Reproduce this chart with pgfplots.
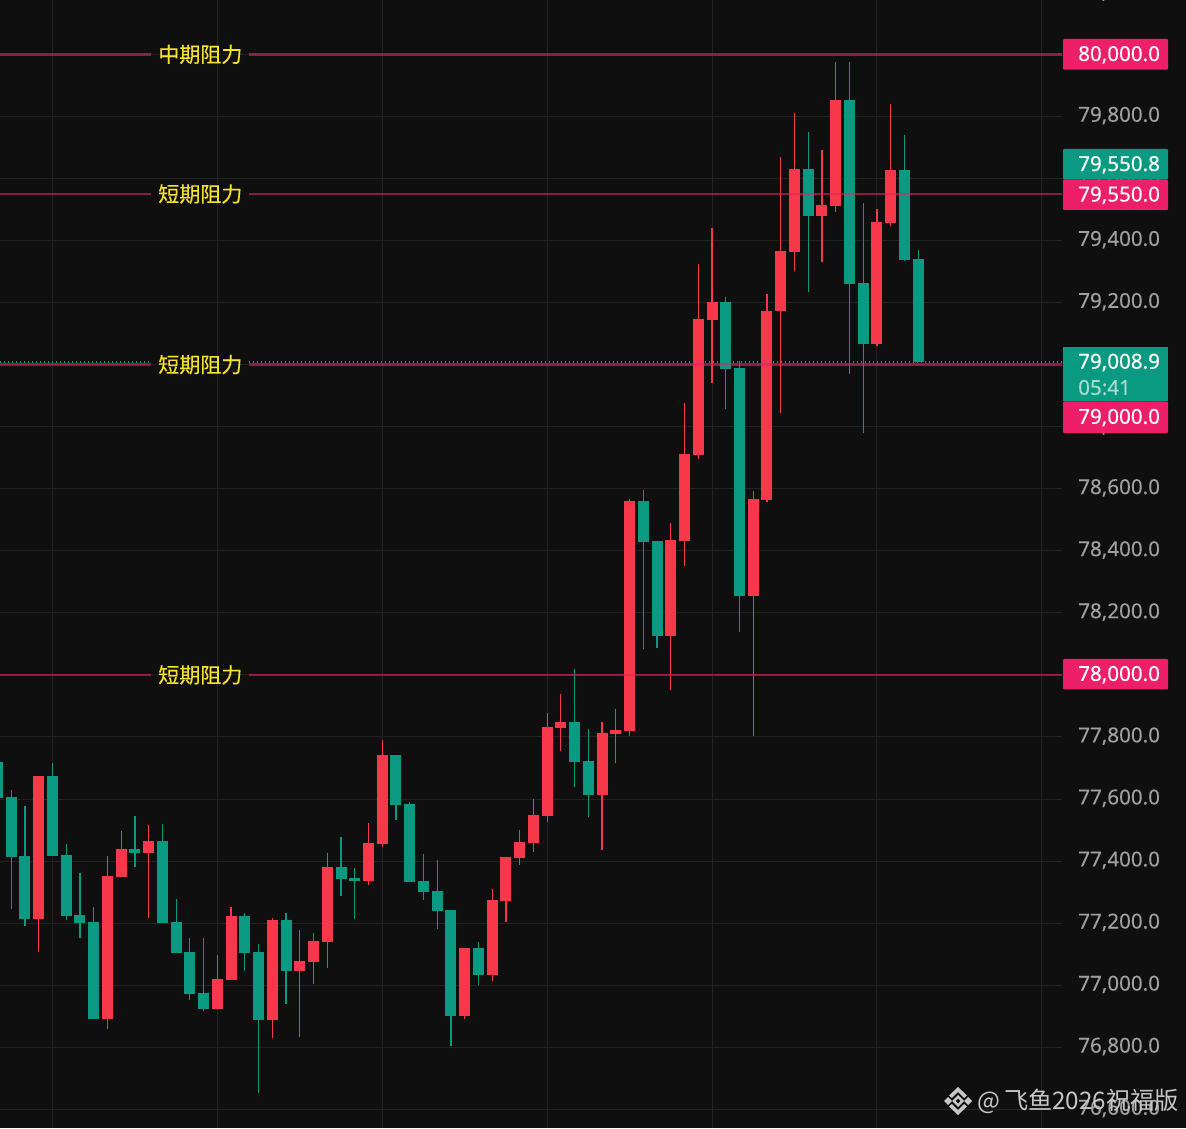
\documentclass[border=0pt]{standalone}
\usepackage{pgfplots}
\usepackage{pgfplotstable}
\usepackage{fontspec}
\pgfplotsset{compat=1.18}
\setmainfont{Noto Sans}
\newfontfamily\cjk[FakeBold=0.2]{Noto Sans CJK SC}
\newfontfamily\cjkwm{Noto Sans CJK SC}
\newfontfamily\numbold[FakeBold=0.35]{Noto Sans}
\newfontfamily\numtick[FakeBold=0.12]{Noto Sans}
\definecolor{bg}{HTML}{0F0F0F}
\definecolor{gridc}{HTML}{222222}
\definecolor{upc}{HTML}{F7374A}
\definecolor{dnc}{HTML}{0A9A81}
\definecolor{pinkc}{HTML}{EC1F68}
\definecolor{ticktxt}{HTML}{A0A0A0}
\definecolor{yell}{HTML}{F6E22B}
\definecolor{wm}{HTML}{C6C6C6}
% rising candles: x open high low close
\pgfplotstableread{
x o h l c
3 77213 77674 77107 77674
8 76891 77416 76859 77352
9 77349 77497 77349 77439
11 77426 77516 77217 77465
16 76923 77097 76923 77020
17 77017 77252 77017 77223
20 76888 77217 76830 77210
22 77046 77178 76833 77078
23 77075 77168 77005 77142
24 77139 77426 77055 77381
27 77336 77523 77323 77458
28 77455 77790 77445 77742
34 76901 77120 76891 77120
36 77033 77310 77014 77275
37 77271 77413 77204 77413
38 77410 77500 77387 77462
39 77458 77600 77429 77549
40 77545 77877 77526 77832
41 77829 77938 77755 77848
44 77613 77848 77436 77813
45 77810 77890 77716 77823
46 77819 78567 77803 78560
49 78125 78490 77951 78435
50 78432 78876 78351 78712
51 78709 79324 78696 79147
52 79144 79440 78941 79202
55 78254 78593 77803 78567
56 78564 79228 78557 79173
57 79173 79669 78844 79366
58 79363 79811 79302 79630
60 79479 79692 79331 79514
61 79511 79975 79492 79853
64 79066 79502 79060 79460
65 79456 79840 79447 79627
}\upcandles
% falling candles: x open high low close
\pgfplotstableread{
x o h l c
0 77719 77719 77603 77603
1 77607 77629 77246 77413
2 77416 77578 77191 77213
4 77674 77716 77416 77416
5 77420 77455 77210 77223
6 77226 77362 77152 77200
7 77204 77252 76891 76891
10 77439 77545 77381 77426
12 77465 77520 77200 77200
13 77204 77278 77104 77104
14 77107 77152 76952 76972
15 76975 77152 76917 76923
18 77223 77233 77046 77104
19 77107 77133 76653 76888
21 77210 77233 76939 77046
25 77381 77478 77288 77342
26 77346 77378 77213 77336
29 77742 77742 77532 77581
30 77584 77590 77333 77333
31 77336 77423 77275 77300
32 77304 77404 77181 77239
33 77242 77242 76804 76901
35 77120 77139 77001 77033
42 77848 78019 77639 77719
43 77723 77826 77542 77613
47 78560 78596 78083 78428
48 78432 78432 78087 78125
53 79202 79218 78857 78986
54 78989 79012 78138 78254
59 79630 79750 79234 79479
62 79853 79975 78970 79260
63 79263 79521 78780 79066
66 79627 79740 79334 79337
67 79340 79369 79009 79009
}\dncandles
\newcommand{\badge}[4]{%
  \fill[#3,rounded corners=1pt] (1063pt,{1128pt-#1pt}) rectangle (1168pt,{1128pt-#2pt});
  \node[anchor=west,inner sep=0pt,text=white,font=\fontsize{20.6}{24}\numbold] at (1078pt,{1128pt-(#1pt+#2pt)/2-0.5pt}) {#4};}
\begin{document}
\begin{tikzpicture}
\useasboundingbox (0,0) rectangle (1186pt,1128pt);
\clip (0,0) rectangle (1186pt,1128pt);
\fill[bg] (0,0) rectangle (1186pt,1128pt);
\begin{axis}[
  at={(0,0)}, anchor=south west,
  scale only axis, width=1062pt, height=1128pt,
  xmin=0.182, xmax=77.474, ymin=76539.9, ymax=80175,
  axis line style={draw=none},
  major tick length=0pt,
  xtick={4,16,...,76}, xticklabels={},
  ytick={76600,76800,...,80000},
  grid=major, grid style={gridc,line width=1pt},
  yticklabel pos=right,
  scaled y ticks=false,
  yticklabel style={/pgf/number format/.cd,fixed,fixed zerofill,precision=1,1000 sep={,},assume math mode=true,
    /tikz/.cd,inner sep=0pt,xshift=16pt,yshift=0.8pt,anchor=west,text=ticktxt,font=\fontsize{20.6}{24}\numtick},
]
% wicks
\addplot[draw=none,forget plot,error bars/.cd,y dir=minus,y explicit,error mark=none,
  error bar style={draw=upc,line width=1.2pt}]
  table[x=x,y=h,y error minus expr=\thisrow{h}-\thisrow{l}]{\upcandles};
\addplot[draw=none,forget plot,error bars/.cd,y dir=minus,y explicit,error mark=none,
  error bar style={draw=dnc,line width=1.2pt}]
  table[x=x,y=h,y error minus expr=\thisrow{h}-\thisrow{l}]{\dncandles};
% bodies
\addplot[draw=none,forget plot,error bars/.cd,y dir=minus,y explicit,error mark=none,
  error bar style={draw=upc,line width=11pt}]
  table[x=x,y=c,y error minus expr=\thisrow{c}-\thisrow{o}]{\upcandles};
\addplot[draw=none,forget plot,error bars/.cd,y dir=minus,y explicit,error mark=none,
  error bar style={draw=dnc,line width=11pt}]
  table[x=x,y=o,y error minus expr=\thisrow{o}-\thisrow{c}]{\dncandles};
% current price, dotted
\addplot[dnc,line width=1.4pt,dash pattern=on 1.3pt off 2.7pt,forget plot] coordinates {(0.182,79008) (11.17,79008)};
\addplot[dnc,line width=1.4pt,dash pattern=on 1.3pt off 2.7pt,forget plot] coordinates {(18.3,79008) (77.474,79008)};
% level lines
\foreach \lv in {80000,79550,79000,78000}{
  \edef\tmp{\noexpand\addplot[pinkc,opacity=0.58,line width=2.8pt,forget plot] coordinates {(0.182,\lv) (11.17,\lv)};
  \noexpand\addplot[pinkc,opacity=0.58,line width=2.8pt,forget plot] coordinates {(18.3,\lv) (77.474,\lv)};}
  \tmp
}
\node[text=yell,font={\fontsize{21}{24}\cjk},inner sep=0pt] at (axis cs:14.76,80000) {中期阻力};
\node[text=yell,font={\fontsize{21}{24}\cjk},inner sep=0pt] at (axis cs:14.76,79550) {短期阻力};
\node[text=yell,font={\fontsize{21}{24}\cjk},inner sep=0pt] at (axis cs:14.76,79000) {短期阻力};
\node[text=yell,font={\fontsize{21}{24}\cjk},inner sep=0pt] at (axis cs:14.76,78000) {短期阻力};
\end{axis}
% partly visible tick above the top edge
\node[anchor=west,inner sep=0pt,text=ticktxt,font=\fontsize{20.6}{24}\numtick] at (1078pt,1136pt) {80,200.0};
% price tags
\badge{39}{69.7}{pinkc}{80,000.0}
\badge{149}{179.7}{dnc}{79,550.8}
\badge{179.7}{210}{pinkc}{79,550.0}
\badge{659}{689.5}{pinkc}{78,000.0}
\fill[dnc] (1063pt,{1128pt-347pt}) rectangle (1168pt,{1128pt-401.3pt});
\node[anchor=west,inner sep=0pt,text=white,font=\fontsize{20.6}{24}\numbold] at (1078pt,{1128pt-362.5pt}) {79,008.9};
\node[anchor=west,inner sep=0pt,text=white!65!dnc,font=\fontsize{20.6}{24}\numtick] at (1078pt,{1128pt-387.5pt}) {05:41};
\badge{401.3}{433}{pinkc}{79,000.0}
% watermark
\begin{scope}[shift={(958pt,27pt)},wm]
\fill (-14pt,0pt)--(-10pt,4pt)--(-6pt,0pt)--(-10pt,-4pt)--cycle;
\fill (14pt,0pt)--(10pt,4pt)--(6pt,0pt)--(10pt,-4pt)--cycle;
\fill[even odd rule] (0,6pt)--(6pt,0)--(0,-6pt)--(-6pt,0)--cycle (0,2.5pt)--(2.5pt,0)--(0,-2.5pt)--(-2.5pt,0)--cycle;
\fill (0,14pt)--(9pt,5.5pt)--(6.2pt,3pt)--(0,9pt)--(-6.2pt,3pt)--(-9pt,5.5pt)--cycle;
\fill (0,-14pt)--(9pt,-5.5pt)--(6.2pt,-3pt)--(0,-9pt)--(-6.2pt,-3pt)--(-9pt,-5.5pt)--cycle;
\end{scope}
\node[anchor=west,inner sep=0pt,text=wm,font={\fontsize{24.2}{28}\cjkwm}] at (977pt,27pt) {@\hspace{4pt}飞鱼2026祝福版};
\end{tikzpicture}
\end{document}
